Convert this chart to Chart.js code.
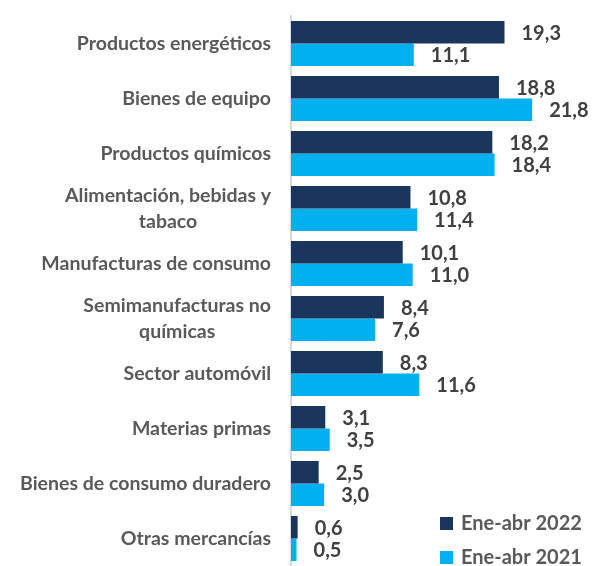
<!DOCTYPE html>
<html>
<head>
<meta charset="utf-8">
<script src="https://cdn.jsdelivr.net/npm/chart.js@4"></script>
<style>
  html, body { margin: 0; padding: 0; background: #fff; }
  #wrap { width: 593px; height: 566px; position: relative; }
</style>
</head>
<body>
<div id="wrap"><canvas id="bars"></canvas></div>
<script>
const CATEGORIES = [
    ['Productos energéticos'],
    ['Bienes de equipo'],
    ['Productos químicos'],
    ['Alimentación, bebidas y', 'tabaco'],
    ['Manufacturas de consumo'],
    ['Semimanufacturas no', 'químicas'],
    ['Sector automóvil'],
    ['Materias primas'],
    ['Bienes de consumo duradero'],
    ['Otras mercancías'],
];
const SERIES_NAMES = ['Ene-abr 2022', 'Ene-abr 2021'];
const VALUES_2022 = [19.3, 18.8, 18.2, 10.8, 10.1, 8.4, 8.3, 3.1, 2.5, 0.6];
const VALUES_2021 = [11.1, 21.8, 18.4, 11.4, 11.0, 7.6, 11.6, 3.5, 3.0, 0.5];

const C_NAVY = '#1b365d';
const C_CYAN = '#00b0f0';
const C_TEXT = '#595959';
const C_VALUE = '#404040';
const FONT = 'Lato, "Open Sans", sans-serif';

// category names, centred lines, block right-aligned against the axis
const catLabels = {
    id: 'catLabels',
    afterDraw(chart) {
        let ctx = chart.ctx;
        let y = chart.scales.y;
        ctx.save();
        ctx.font = 'bold 19.5px ' + FONT;
        ctx.fillStyle = C_TEXT;
        ctx.textAlign = 'center';
        ctx.textBaseline = 'middle';
        let right = y.right - 20;
        CATEGORIES.forEach((lines, i) => {
            let w = Math.max(...lines.map(l => ctx.measureText(l).width));
            let cx = right - w / 2;
            let cy = y.getPixelForValue(i);
            let lh = 26;
            lines.forEach((l, j) => {
                ctx.fillText(l, cx, cy + (j - (lines.length - 1) / 2) * lh);
            });
        });
        ctx.restore();
    }
};

// value labels beside each bar
const valueLabels = {
    id: 'valueLabels',
    afterDatasetsDraw(chart) {
        let ctx = chart.ctx;
        ctx.save();
        ctx.font = 'bold 20px ' + FONT;
        ctx.fillStyle = C_VALUE;
        ctx.textAlign = 'left';
        ctx.textBaseline = 'middle';
        chart.data.datasets.forEach((ds, di) => {
            chart.getDatasetMeta(di).data.forEach((bar, i) => {
                let txt = ds.data[i].toFixed(1).replace('.', ',');
                ctx.fillText(txt, bar.x + 17, bar.y + 1);
            });
        });
        ctx.restore();
    }
};

// legend in lower right of the plot
const cornerLegend = {
    id: 'cornerLegend',
    afterDraw(chart) {
        let ctx = chart.ctx;
        ctx.save();
        ctx.font = 'bold 20px ' + FONT;
        ctx.textAlign = 'left';
        ctx.textBaseline = 'middle';
        chart.data.datasets.forEach((ds, i) => {
            let cy = 523 + i * 34;
            ctx.fillStyle = ds.backgroundColor;
            ctx.fillRect(440, cy - 6, 13, 13);
            ctx.fillStyle = C_TEXT;
            ctx.fillText(ds.label, 461, cy + 1);
        });
        ctx.restore();
    }
};

new Chart(document.getElementById('bars'), {
    type: 'bar',
    data: {
        labels: CATEGORIES.map(c => c.join(' ')),
        datasets: [
            { label: SERIES_NAMES[0], data: VALUES_2022, backgroundColor: C_NAVY },
            { label: SERIES_NAMES[1], data: VALUES_2021, backgroundColor: C_CYAN },
        ],
    },
    options: {
        indexAxis: 'y',
        responsive: true,
        maintainAspectRatio: false,
        animation: false,
        layout: { padding: { top: 16, bottom: 0, left: 0, right: 0 } },
        datasets: { bar: { categoryPercentage: 0.82, barPercentage: 1.0, minBarLength: 3 } },
        scales: {
            x: {
                min: 0,
                max: 27.3,
                display: false,
            },
            y: {
                afterFit(scale) { scale.width = 291; },
                ticks: { display: false },
                grid: { display: false },
                border: { display: true, color: '#d9d9d9', width: 2 },
            },
        },
        plugins: {
            legend: { display: false },
            tooltip: { enabled: false },
        },
    },
    plugins: [catLabels, valueLabels, cornerLegend],
});
</script>
</body>
</html>
